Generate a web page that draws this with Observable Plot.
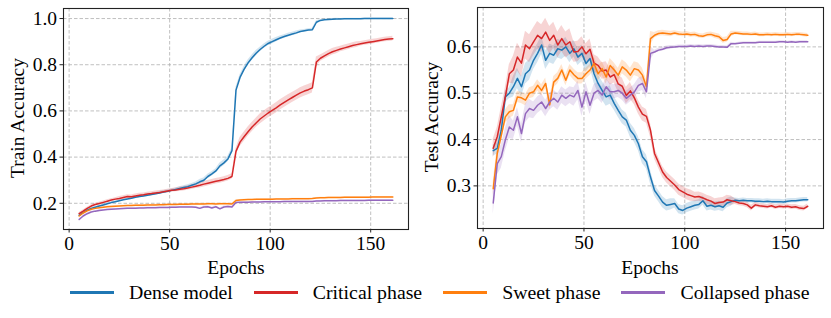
<!DOCTYPE html>
<html>
<head>
<meta charset="utf-8">
<script src="https://cdn.jsdelivr.net/npm/d3@7"></script>
<script src="https://cdn.jsdelivr.net/npm/@observablehq/plot@0.6"></script>
<style>
  body { margin: 0; width: 831px; height: 318px; position: relative; background: #fff; overflow: hidden;
         font-family: 'Liberation Serif', serif; color: #000; }
  .panel { position: absolute; top: 0; }
  .ylab { position: absolute; font-size: 19.5px; white-space: nowrap; transform: translate(-50%, -50%) rotate(-90deg); }
  .xlab { position: absolute; font-size: 19.5px; white-space: nowrap; transform: translate(-50%, -50%); }
  #legend { position: absolute; left: 70px; top: 280px; height: 24px; display: flex; align-items: center; font-size: 19.8px; white-space: nowrap; }
  #legend .item { display: flex; align-items: center; margin-right: 21px; }
  #legend .sw { width: 44px; height: 3px; margin-right: 15px; }
</style>
</head>
<body>
<div id="left" class="panel" style="left:0"></div>
<div id="right" class="panel" style="left:415px"></div>
<div class="ylab" style="left:18px; top:118px">Train Accuracy</div>
<div class="ylab" style="left:432px; top:117px">Test Accuracy</div>
<div class="xlab" style="left:236px; top:268px">Epochs</div>
<div class="xlab" style="left:650px; top:268px">Epochs</div>
<div id="legend"></div>
<script>
// ---- categories ----
const seriesNames = ["Dense model", "Critical phase", "Sweet phase", "Collapsed phase"];
const seriesColors = ["#1f77b4", "#d62728", "#ff7f0e", "#9467bd"];
const epochs = d3.range(5, 162, 2); // 5, 7, ..., 161
const xTicks = [0, 50, 100, 150];
const trainYTicks = [0.2, 0.4, 0.6, 0.8, 1.0];
const testYTicks = [0.3, 0.4, 0.5, 0.6];

// ---- train accuracy (one value per epoch above) ----
const trainDense = [
  0.148,0.160,0.170,0.178,0.183,0.188,0.193,0.198,0.203,0.207,
  0.211,0.215,0.219,0.222,0.226,0.229,0.232,0.235,0.238,0.241,
  0.245,0.249,0.252,0.256,0.260,0.264,0.268,0.272,0.278,0.284,
  0.293,0.300,0.316,0.327,0.340,0.362,0.375,0.392,0.428,0.690,
  0.745,0.780,0.808,0.830,0.850,0.866,0.880,0.892,0.900,0.908,
  0.916,0.922,0.928,0.933,0.938,0.944,0.947,0.950,0.952,0.984,
  0.992,0.995,0.996,0.997,0.998,0.998,0.999,0.999,0.999,0.999,
  0.999,1.000,1.000,1.000,1.000,1.000,1.000,1.000,1.000];
const trainCritical = [
  0.155,0.166,0.178,0.188,0.195,0.199,0.204,0.209,0.214,0.218,
  0.221,0.225,0.229,0.228,0.232,0.235,0.237,0.240,0.242,0.245,
  0.247,0.250,0.253,0.256,0.258,0.261,0.263,0.266,0.270,0.274,
  0.278,0.283,0.287,0.291,0.295,0.299,0.303,0.308,0.316,0.425,
  0.465,0.488,0.510,0.530,0.548,0.565,0.578,0.591,0.602,0.613,
  0.626,0.637,0.648,0.658,0.668,0.678,0.686,0.692,0.700,0.812,
  0.828,0.838,0.848,0.856,0.862,0.868,0.873,0.878,0.883,0.887,
  0.891,0.894,0.897,0.900,0.903,0.906,0.909,0.911,0.913];
const trainSweet = [
  0.145,0.158,0.167,0.174,0.178,0.181,0.183,0.185,0.186,0.187,
  0.188,0.189,0.190,0.190,0.191,0.192,0.192,0.193,0.193,0.193,
  0.194,0.194,0.195,0.195,0.195,0.196,0.196,0.196,0.197,0.197,
  0.197,0.197,0.198,0.198,0.197,0.198,0.198,0.198,0.197,0.212,
  0.214,0.215,0.216,0.216,0.217,0.217,0.218,0.218,0.218,0.219,
  0.219,0.219,0.219,0.220,0.220,0.220,0.220,0.220,0.221,0.223,
  0.224,0.224,0.225,0.225,0.225,0.225,0.226,0.226,0.226,0.226,
  0.226,0.226,0.226,0.227,0.227,0.227,0.227,0.227,0.227];
const trainCollapsed = [
  0.130,0.145,0.155,0.162,0.166,0.169,0.171,0.173,0.174,0.175,
  0.176,0.177,0.178,0.178,0.179,0.180,0.180,0.181,0.181,0.181,
  0.182,0.182,0.182,0.183,0.183,0.184,0.184,0.184,0.184,0.183,
  0.178,0.184,0.185,0.180,0.185,0.176,0.184,0.186,0.184,0.203,
  0.204,0.205,0.205,0.206,0.206,0.206,0.207,0.207,0.207,0.207,
  0.207,0.208,0.208,0.208,0.208,0.208,0.208,0.208,0.208,0.210,
  0.210,0.211,0.211,0.211,0.211,0.212,0.212,0.212,0.212,0.212,
  0.212,0.212,0.213,0.213,0.213,0.213,0.213,0.213,0.213];

// ---- test accuracy ----
const testDense = [
  0.376,0.381,0.420,0.492,0.500,0.514,0.532,0.514,0.542,0.550,
  0.571,0.586,0.604,0.571,0.586,0.582,0.596,0.593,0.600,0.586,
  0.596,0.578,0.586,0.564,0.575,0.542,0.521,0.506,0.492,0.496,
  0.478,0.463,0.449,0.442,0.420,0.409,0.391,0.363,0.352,0.319,
  0.290,0.278,0.265,0.258,0.260,0.262,0.250,0.247,0.252,0.255,
  0.258,0.260,0.268,0.256,0.258,0.255,0.257,0.254,0.263,0.266,
  0.269,0.268,0.269,0.268,0.268,0.267,0.267,0.266,0.267,0.266,
  0.266,0.266,0.265,0.267,0.268,0.268,0.269,0.270,0.270];
const testCritical = [
  0.381,0.406,0.449,0.492,0.542,0.550,0.578,0.565,0.604,0.596,
  0.611,0.625,0.618,0.632,0.614,0.625,0.604,0.618,0.604,0.611,
  0.589,0.590,0.600,0.585,0.595,0.565,0.560,0.548,0.550,0.535,
  0.540,0.520,0.515,0.495,0.505,0.490,0.470,0.455,0.450,0.420,
  0.370,0.350,0.330,0.318,0.310,0.302,0.292,0.287,0.282,0.279,
  0.276,0.277,0.274,0.270,0.267,0.262,0.264,0.265,0.270,0.268,
  0.266,0.263,0.262,0.259,0.252,0.259,0.257,0.256,0.255,0.257,
  0.254,0.256,0.255,0.256,0.254,0.255,0.252,0.251,0.256];
const testSweet = [
  0.294,0.370,0.409,0.449,0.460,0.463,0.492,0.490,0.485,0.500,
  0.503,0.517,0.506,0.521,0.475,0.524,0.532,0.550,0.528,0.550,
  0.540,0.532,0.532,0.542,0.550,0.564,0.542,0.553,0.535,0.560,
  0.550,0.539,0.557,0.550,0.539,0.553,0.550,0.539,0.514,0.618,
  0.625,0.629,0.630,0.629,0.628,0.630,0.628,0.627,0.628,0.626,
  0.627,0.624,0.623,0.626,0.627,0.624,0.622,0.614,0.616,0.628,
  0.630,0.629,0.628,0.628,0.627,0.628,0.626,0.626,0.627,0.626,
  0.627,0.626,0.626,0.627,0.626,0.627,0.627,0.626,0.625];
const testCollapsed = [
  0.263,0.348,0.363,0.399,0.427,0.420,0.449,0.413,0.456,0.467,
  0.463,0.474,0.481,0.467,0.481,0.489,0.481,0.496,0.489,0.496,
  0.492,0.506,0.470,0.503,0.474,0.500,0.506,0.496,0.514,0.503,
  0.503,0.506,0.500,0.489,0.496,0.503,0.517,0.521,0.503,0.586,
  0.589,0.593,0.595,0.598,0.599,0.600,0.601,0.601,0.601,0.602,
  0.601,0.602,0.601,0.602,0.602,0.601,0.600,0.600,0.599,0.607,
  0.607,0.608,0.609,0.609,0.609,0.609,0.610,0.610,0.610,0.610,
  0.610,0.611,0.611,0.610,0.611,0.610,0.611,0.611,0.611];

// ---- spread (half-width of shaded band), per 10-epoch segment starting at these epochs ----
const bandStarts = [5,15,25,35,45,55,65,75,85,95,105,115,125,135,145,155];
const bandTrainDense     = [0.004,0.004,0.004,0.005,0.006,0.008,0.010,0.012,0.012,0.010,0.008,0.006,0.003,0.002,0.002,0.002];
const bandTrainCritical  = [0.005,0.006,0.008,0.008,0.008,0.010,0.012,0.012,0.020,0.022,0.022,0.022,0.014,0.012,0.010,0.010];
const bandTrainSweet     = [0.003,0.003,0.003,0.003,0.003,0.003,0.003,0.003,0.002,0.002,0.002,0.002,0.002,0.002,0.002,0.002];
const bandTrainCollapsed = [0.003,0.003,0.003,0.003,0.003,0.003,0.004,0.004,0.002,0.002,0.002,0.002,0.002,0.002,0.002,0.002];
const bandTestDense      = [0.012,0.022,0.020,0.020,0.018,0.020,0.015,0.015,0.012,0.010,0.010,0.010,0.005,0.005,0.005,0.005];
const bandTestCritical   = [0.020,0.030,0.030,0.028,0.022,0.018,0.018,0.015,0.012,0.012,0.010,0.010,0.006,0.005,0.005,0.005];
const bandTestSweet      = [0.015,0.012,0.012,0.012,0.012,0.015,0.015,0.015,0.006,0.005,0.005,0.006,0.004,0.004,0.004,0.004];
const bandTestCollapsed  = [0.025,0.020,0.018,0.018,0.020,0.018,0.015,0.015,0.004,0.003,0.003,0.003,0.002,0.002,0.002,0.002];

function rows(valuesList, bandsList) {
  const out = [];
  seriesNames.forEach((name, s) => {
    epochs.forEach((e, i) => {
      const seg = Math.max(0, d3.bisectRight(bandStarts, e) - 1);
      const v = valuesList[s][i], b = bandsList[s][seg];
      out.push({series: name, epoch: e, value: v, lo: v - b, hi: v + b});
    });
  });
  return out;
}
const trainRows = rows([trainDense, trainCritical, trainSweet, trainCollapsed],
                       [bandTrainDense, bandTrainCritical, bandTrainSweet, bandTrainCollapsed]);
const testRows = rows([testDense, testCritical, testSweet, testCollapsed],
                      [bandTestDense, bandTestCritical, bandTestSweet, bandTestCollapsed]);

function panel(data, yDomain, yTicks, width, ml, mr, mt, mb) {
  const grid = {stroke: "#b0b0b0", strokeOpacity: 1, strokeWidth: 0.8, strokeDasharray: "3.5,2"};
  return Plot.plot({
    width, height: 280, marginLeft: ml, marginRight: mr, marginTop: mt, marginBottom: mb,
    style: {fontFamily: "'Liberation Serif', serif", fontSize: "19.5px", color: "#000", background: "transparent", overflow: "visible"},
    x: {domain: [-2.8, 168.8]},
    y: {domain: yDomain},
    color: {domain: seriesNames, range: seriesColors},
    marks: [
      Plot.gridX(xTicks, grid),
      Plot.gridY(yTicks, grid),
      Plot.areaY(data, {x: "epoch", y1: "lo", y2: "hi", z: "series", fill: "series", fillOpacity: 0.2}),
      Plot.lineY(data, {x: "epoch", y: "value", z: "series", stroke: "series", strokeWidth: 1.5}),
      Plot.frame({stroke: "#222", strokeWidth: 1.1}),
      Plot.axisX(xTicks, {tickSize: 3.5, tickPadding: 3, label: null, stroke: "#222"}),
      Plot.axisY(yTicks, {tickSize: 3.5, tickPadding: 3, label: null, tickFormat: d3.format(".1f"), stroke: "#222"})
    ]
  });
}

document.getElementById("left").append(panel(trainRows, [0.0865, 1.0435], trainYTicks, 415, 63, 7, 8, 51));
document.getElementById("right").append(panel(testRows, [0.208, 0.685], testYTicks, 416, 62, 8, 7, 52));

const legend = document.getElementById("legend");
seriesNames.forEach((name, i) => {
  const item = document.createElement("div");
  item.className = "item";
  const sw = document.createElement("div");
  sw.className = "sw";
  sw.style.background = seriesColors[i];
  const t = document.createElement("span");
  t.textContent = name;
  item.append(sw, t);
  legend.append(item);
});
</script>
</body>
</html>
